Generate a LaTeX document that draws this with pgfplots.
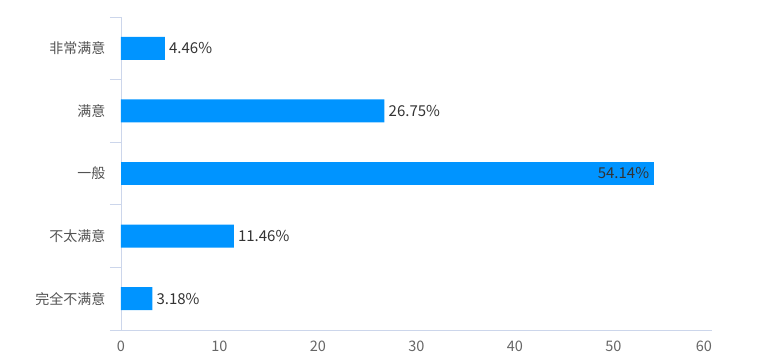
\documentclass[border=0pt]{standalone}
\usepackage{fontspec}
\setmainfont{Noto Sans CJK SC}
\usepackage{pgfplots}
\pgfplotsset{compat=1.18}
\definecolor{barblue}{HTML}{0094FF}
\definecolor{axisc}{HTML}{CCD6EB}
\definecolor{txt}{HTML}{333333}
\definecolor{lab}{HTML}{666666}
\begin{document}
\begin{tikzpicture}
\begin{axis}[name=ax, scale only axis, width=591pt, height=313pt,
  xmin=0, xmax=60, ymin=-0.5, ymax=4.5,
  axis x line*=bottom, axis y line*=left,
  axis line style={axisc, line width=0.8pt, -},
  xtick={0,10,...,50}, ytick={0,...,4},
  extra x ticks={60},
  extra x tick style={xticklabel style={xshift=-8pt}},
  yticklabels={完全不满意,不太满意,一般,满意,非常满意},
  minor ytick={-0.5,0.5,...,4.5},
  major tick length=0pt, minor tick length=11pt, tick align=outside,
  minor tick style={axisc, line width=0.8pt},
  tick label style={font=\fontsize{14.5}{16}\selectfont, lab},
  yticklabel style={xshift=-12pt, text=txt!85, font=\fontsize{14}{16}\selectfont},
  xticklabel style={yshift=-7pt},
  /pgf/number format/assume math mode=true,
  clip=false,
]
\addplot[xbar, bar width=23pt, bar shift=0pt, fill=barblue, draw=none,
  nodes near coords={\pgfmathprintnumber[fixed,precision=2,fixed zerofill]{\pgfplotspointmeta}\%},
  nodes near coords align=horizontal,
  every node near coord/.append style={font=\fontsize{15}{17}\selectfont, txt, anchor=west, inner sep=1pt, xshift=3pt},
  point meta=x]
  coordinates {(4.46,4) (26.75,3) (11.46,1) (3.18,0)};
\addplot[xbar, bar width=23pt, bar shift=0pt, fill=barblue, draw=none,
  nodes near coords={\pgfmathprintnumber[fixed,precision=2,fixed zerofill]{\pgfplotspointmeta}\%},
  nodes near coords align=horizontal,
  every node near coord/.append style={font=\fontsize{15}{17}\selectfont, txt, anchor=east, inner sep=1pt, xshift=-4pt},
  point meta=x]
  coordinates {(54.14,2)};
\end{axis}
\path (ax.south west) ++(-121pt,-33pt) rectangle ++(757pt,363pt);
\end{tikzpicture}
\end{document}
